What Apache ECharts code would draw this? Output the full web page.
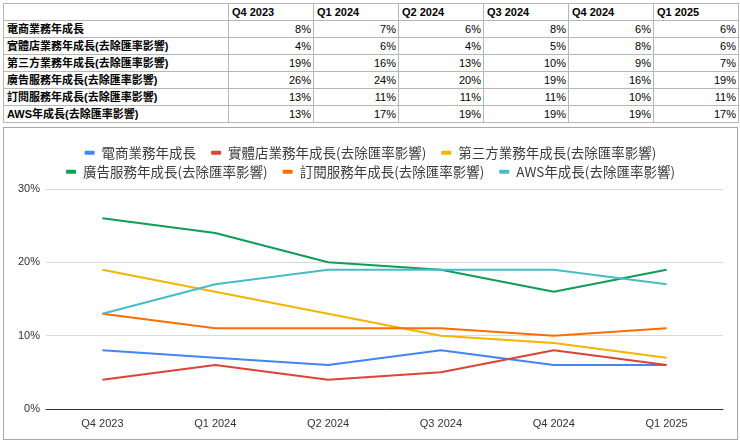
<!DOCTYPE html>
<html>
<head>
<meta charset="utf-8">
<script src="https://cdn.jsdelivr.net/npm/echarts@6/dist/echarts.min.js"></script>
<style>
  html, body { margin: 0; padding: 0; background: #fff; width: 740px; height: 441px; overflow: hidden; }
  #tbl { position: absolute; left: 3px; top: 3px; border-collapse: collapse; table-layout: fixed;
         font-family: "Liberation Sans", Arial, "Noto Sans CJK TC", sans-serif; font-size: 11px; color: #000; }
  #tbl td { border: 1px solid #b7b7b7; height: 16px; padding: 0 3px; white-space: nowrap; line-height: 15px; }
  #tbl td.h { font-weight: bold; text-align: left; }
  #tbl td.v { text-align: right; padding-right: 2px; }
  #chart { position: absolute; left: 3px; top: 127px; width: 733px; height: 311px; border: 1px solid #a8a8a8; }
</style>
</head>
<body>
<table id="tbl"></table>
<div id="chart"></div>
<script>
const categories = ["Q4 2023", "Q1 2024", "Q2 2024", "Q3 2024", "Q4 2024", "Q1 2025"];
const seriesNames = [
  "電商業務年成長",
  "實體店業務年成長(去除匯率影響)",
  "第三方業務年成長(去除匯率影響)",
  "廣告服務年成長(去除匯率影響)",
  "訂閱服務年成長(去除匯率影響)",
  "AWS年成長(去除匯率影響)"
];
const ecommerce = [8, 7, 6, 8, 6, 6];
const physicalStores = [4, 6, 4, 5, 8, 6];
const thirdParty = [19, 16, 13, 10, 9, 7];
const advertising = [26, 24, 20, 19, 16, 19];
const subscription = [13, 11, 11, 11, 10, 11];
const aws = [13, 17, 19, 19, 19, 17];
const yTicks = [0, 10, 20, 30];

const allValues = [ecommerce, physicalStores, thirdParty, advertising, subscription, aws];
const colors = ["#4285F4", "#DB4437", "#F4B400", "#0F9D58", "#FF6D01", "#46BDC6"];

// table
const tbl = document.getElementById("tbl");
const colWidths = [225, 85, 85, 85, 85, 85, 85];
let cg = "<colgroup>" + colWidths.map(w => `<col style="width:${w}px">`).join("") + "</colgroup>";
let html = cg + "<tr><td class='h'></td>" + categories.map(c => `<td class='h'>${c}</td>`).join("") + "</tr>";
seriesNames.forEach((n, i) => {
  html += `<tr><td class='h'>${n}</td>` + allValues[i].map(v => `<td class='v'>${v}%</td>`).join("") + "</tr>";
});
tbl.innerHTML = html;

const chart = echarts.init(document.getElementById("chart"), null, { renderer: "canvas" });
const legendCommon = {
  icon: "roundRect", itemWidth: 10, itemHeight: 4, itemGap: 15,
  textStyle: { fontSize: 13.5, color: "#3c3c3c", fontFamily: "Noto Sans CJK TC, sans-serif", padding: [0, 0, 0, 2] },
  left: "center", orient: "horizontal"
};
chart.setOption({
  animation: false,
  color: colors,
  legend: [
    Object.assign({}, legendCommon, { top: 13, data: seriesNames.slice(0, 3) }),
    Object.assign({}, legendCommon, { top: 32, data: seriesNames.slice(3) })
  ],
  grid: { left: 42, right: 14, top: 61, bottom: 30, containLabel: false },
  xAxis: {
    type: "category", data: categories, boundaryGap: true,
    axisLine: { lineStyle: { color: "#333", width: 1 } },
    axisTick: { show: false },
    axisLabel: { color: "#333", fontSize: 11, margin: 9, fontFamily: "Liberation Sans, Arial, sans-serif" }
  },
  yAxis: {
    type: "value", min: yTicks[0], max: yTicks[yTicks.length - 1], interval: 10,
    axisLine: { show: false }, axisTick: { show: false },
    splitLine: { lineStyle: { color: "#d9d9d9" } },
    axisLabel: { formatter: "{value}%", color: "#333", fontSize: 11, margin: 6, fontFamily: "Liberation Sans, Arial, sans-serif" }
  },
  series: seriesNames.map((n, i) => ({
    name: n, type: "line", data: allValues[i], showSymbol: false, symbol: "none",
    lineStyle: { width: 2 }
  }))
});
</script>
</body>
</html>
